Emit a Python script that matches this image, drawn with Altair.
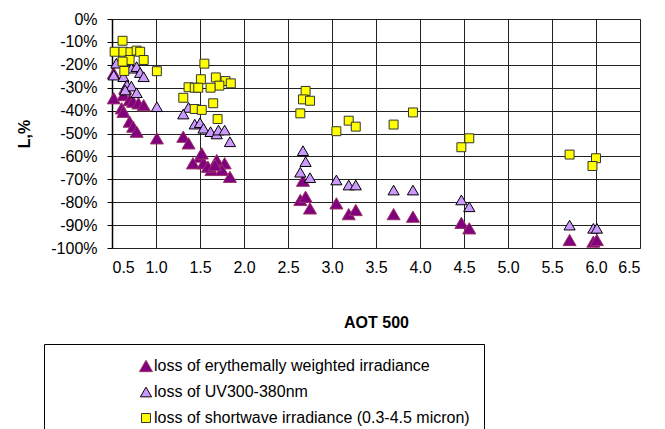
import altair as alt
import pandas as pd

series_names = [
    "loss of erythemally weighted irradiance",
    "loss of UV300-380nm",
    "loss of shortwave irradiance (0.3-4.5 micron)",
]

ery_aot = [0.52, 0.52, 0.63, 0.65, 0.61, 0.63, 0.70, 0.74, 0.80, 0.86, 0.70, 0.74, 0.78, 1.01,
           1.31, 1.37, 1.50, 1.42, 1.54, 1.63, 1.69, 1.78, 1.84, 1.75, 1.59, 1.67, 1.52,
           2.67, 2.64, 2.70, 2.75, 3.05, 3.19, 3.27, 3.70, 3.92, 4.47, 4.56, 5.70, 5.97, 6.01]
ery_loss = [-23.7, -34.6, -33.2, -30.3, -39.0, -40.5, -35.4, -36.1, -36.8, -37.6, -44.8, -47.0, -49.2, -52.1,
            -51.4, -54.3, -60.1, -63.0, -63.0, -65.9, -61.6, -63.0, -68.9, -65.9, -64.5, -63.8, -58.7,
            -70.6, -79.0, -77.6, -82.7, -80.5, -85.2, -83.4, -85.2, -86.3, -89.0, -91.4, -96.5, -97.2, -96.5]

uv_aot = [0.55, 0.52, 0.63, 0.72, 0.78, 0.82, 0.86, 0.67, 0.72, 0.65, 0.78, 1.01, 1.37, 1.31,
          1.44, 1.50, 1.54, 1.62, 1.69, 1.71, 1.78, 1.84,
          2.67, 2.70, 2.64, 2.75, 3.05, 3.19, 3.27, 3.70, 3.92, 4.47, 4.56, 5.70, 5.97, 6.01]
uv_loss = [-19.3, -24.5, -25.2, -21.5, -20.8, -23.4, -25.2, -28.8, -29.3, -31.0, -32.2, -38.3, -38.6, -41.5,
           -45.9, -45.3, -47.7, -49.2, -50.2, -48.5, -48.5, -53.6,
           -57.5, -62.3, -66.9, -69.3, -70.3, -72.5, -72.5, -74.7, -74.7, -79.0, -82.0, -90.0, -91.4, -91.4]

sw_aot = [0.62, 0.53, 0.63, 0.71, 0.78, 0.82, 0.86, 0.70, 0.62, 0.64, 1.01, 1.55, 1.68, 1.79, 1.85,
          1.51, 1.72, 1.62, 1.37, 1.44, 1.48, 1.31, 1.65, 1.44, 1.52, 1.70,
          2.70, 2.67, 2.75, 2.64, 3.05, 3.19, 3.27, 3.70, 3.92, 4.47, 4.56, 5.70, 6.00, 5.96]
sw_loss = [-9.5, -14.3, -14.3, -14.5, -13.8, -14.3, -17.9, -17.9, -18.6, -22.7, -22.8, -19.5, -25.5, -27.1, -28.1,
           -26.3, -29.1, -30.0, -29.8, -30.0, -30.0, -34.4, -36.8, -39.3, -39.7, -43.7,
           -31.4, -35.1, -35.7, -41.2, -49.0, -44.4, -47.0, -46.1, -40.8, -56.0, -52.1, -59.2, -60.8, -64.2]

x_ticks = [0.5, 1.0, 1.5, 2.0, 2.5, 3.0, 3.5, 4.0, 4.5, 5.0, 5.5, 6.0, 6.5]
y_ticks = [0, -10, -20, -30, -40, -50, -60, -70, -80, -90, -100]

rows = []
for name, xs, ys in zip(series_names, [ery_aot, uv_aot, sw_aot], [ery_loss, uv_loss, sw_loss]):
    for a, l in zip(xs, ys):
        rows.append({"series": name, "aot": a, "loss": l})
df = pd.DataFrame(rows)

fills = ["#800080", "#CC99FF", "#FFFF00"]
strokes = ["#993366", "#000000", "#333333"]
shapes = ["triangle-up", "triangle-up", "square"]
sizes = [170, 80, 60]

FONT = "Liberation Sans"

legend = alt.Legend(
    title=None,
    orient="none",
    legendX=-68,
    legendY=325,
    strokeColor="#000000",
    padding=14,
    symbolOffset=80,
    labelFontSize=16,
    labelFont=FONT,
    labelColor="#000000",
    symbolSize=40,
    symbolStrokeWidth=1,
    rowPadding=10,
    labelOffset=0,
    labelLimit=700,
)

chart = alt.Chart(df).mark_point(filled=True, opacity=1, strokeWidth=1).encode(
    x=alt.X("aot:Q",
            scale=alt.Scale(domain=[0.5, 6.5], nice=False, zero=False),
            axis=alt.Axis(values=x_ticks, format=".1f", title="AOT 500",
                          labelPadding=11, tickSize=0, ticks=False, domain=False,
                          titlePadding=39)),
    y=alt.Y("loss:Q",
            scale=alt.Scale(domain=[-100, 0], nice=False, zero=False),
            axis=alt.Axis(values=y_ticks, labelExpr="datum.value + '%'", title="L,%",
                          labelPadding=10, tickSize=5, tickColor="#000000",
                          domainColor="#000000", domainWidth=1.5, titlePadding=18)),
    color=alt.Color("series:N", scale=alt.Scale(domain=series_names, range=fills), legend=legend),
    stroke=alt.Stroke("series:N", scale=alt.Scale(domain=series_names, range=strokes), legend=legend),
    shape=alt.Shape("series:N", scale=alt.Scale(domain=series_names, range=shapes), legend=legend),
    size=alt.Size("series:N", scale=alt.Scale(domain=series_names, range=sizes), legend=None),
).properties(
    width=528,
    height=229,
    background="#ffffff",
    padding={"left": 8, "top": 3, "right": 5, "bottom": 0},
).configure_axis(
    labelFont=FONT,
    labelFontSize=16,
    labelColor="#000000",
    titleFont=FONT,
    titleFontSize=16,
    titleColor="#000000",
    titleFontWeight="bold",
    gridColor="#222222",
    gridWidth=1,
    gridOpacity=1,
).configure_view(
    stroke="#808080",
    strokeWidth=1,
)

chart.save("out.html", embed_options={"renderer": "svg", "actions": False})
